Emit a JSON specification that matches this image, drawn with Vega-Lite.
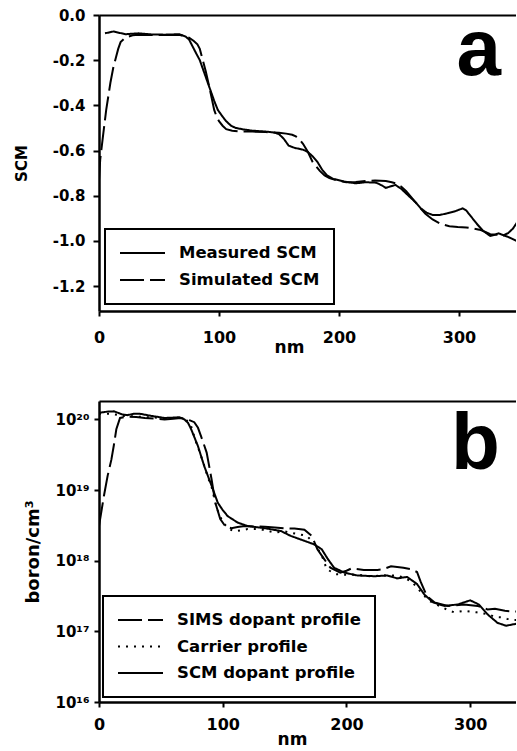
{
  "$schema": "https://vega.github.io/schema/vega-lite/v6.json",
  "background": "white",
  "padding": {"left": 14, "top": 8, "right": 0, "bottom": 0},
  "spacing": 90,
  "bounds": "flush",
  "config": {
    "font": "DejaVu Sans",
    "view": {"stroke": null},
    "axis": {
      "domainColor": "black", "domainWidth": 2.5, "tickColor": "black", "tickWidth": 2,
      "grid": false, "labelColor": "black", "titleColor": "black",
      "labelFont": "DejaVu Sans", "titleFont": "DejaVu Sans",
      "labelFontWeight": "bold", "titleFontWeight": "bold",
      "labelFlush": false, "labelOverlap": false
    },
    "legend": {
      "labelFont": "DejaVu Sans", "labelFontWeight": "bold", "labelFontSize": 16.5, "labelColor": "black", "labelLimit": 400,
      "symbolType": "stroke", "symbolStrokeColor": "black", "symbolStrokeWidth": 2, "symbolSize": 2025,
      "labelOffset": 13, "padding": 14, "clipHeight": 20,
      "strokeColor": "black", "strokeWidth": 2, "fillColor": "white", "direction": "vertical"
    }
  },
  "resolve": {"scale": {"x": "independent", "y": "independent", "strokeDash": "independent"}, "legend": {"strokeDash": "independent"}},
  "datasets": {
    "a": [
      {"nm": 5, "v": -0.081, "series": "Measured SCM"},
      {"nm": 12, "v": -0.073, "series": "Measured SCM"},
      {"nm": 22, "v": -0.085, "series": "Measured SCM"},
      {"nm": 33, "v": -0.081, "series": "Measured SCM"},
      {"nm": 44, "v": -0.086, "series": "Measured SCM"},
      {"nm": 55, "v": -0.087, "series": "Measured SCM"},
      {"nm": 67, "v": -0.085, "series": "Measured SCM"},
      {"nm": 72, "v": -0.095, "series": "Measured SCM"},
      {"nm": 75, "v": -0.108, "series": "Measured SCM"},
      {"nm": 80, "v": -0.16, "series": "Measured SCM"},
      {"nm": 84, "v": -0.2, "series": "Measured SCM"},
      {"nm": 88, "v": -0.26, "series": "Measured SCM"},
      {"nm": 92, "v": -0.32, "series": "Measured SCM"},
      {"nm": 96, "v": -0.38, "series": "Measured SCM"},
      {"nm": 99, "v": -0.42, "series": "Measured SCM"},
      {"nm": 103, "v": -0.45, "series": "Measured SCM"},
      {"nm": 106, "v": -0.47, "series": "Measured SCM"},
      {"nm": 110, "v": -0.49, "series": "Measured SCM"},
      {"nm": 114, "v": -0.5, "series": "Measured SCM"},
      {"nm": 121, "v": -0.507, "series": "Measured SCM"},
      {"nm": 128, "v": -0.512, "series": "Measured SCM"},
      {"nm": 139, "v": -0.516, "series": "Measured SCM"},
      {"nm": 146, "v": -0.52, "series": "Measured SCM"},
      {"nm": 150, "v": -0.527, "series": "Measured SCM"},
      {"nm": 154, "v": -0.548, "series": "Measured SCM"},
      {"nm": 158, "v": -0.578, "series": "Measured SCM"},
      {"nm": 163, "v": -0.588, "series": "Measured SCM"},
      {"nm": 170, "v": -0.596, "series": "Measured SCM"},
      {"nm": 174, "v": -0.606, "series": "Measured SCM"},
      {"nm": 178, "v": -0.625, "series": "Measured SCM"},
      {"nm": 182, "v": -0.65, "series": "Measured SCM"},
      {"nm": 186, "v": -0.685, "series": "Measured SCM"},
      {"nm": 190, "v": -0.71, "series": "Measured SCM"},
      {"nm": 195, "v": -0.725, "series": "Measured SCM"},
      {"nm": 204, "v": -0.737, "series": "Measured SCM"},
      {"nm": 214, "v": -0.745, "series": "Measured SCM"},
      {"nm": 222, "v": -0.74, "series": "Measured SCM"},
      {"nm": 231, "v": -0.742, "series": "Measured SCM"},
      {"nm": 236, "v": -0.755, "series": "Measured SCM"},
      {"nm": 239, "v": -0.765, "series": "Measured SCM"},
      {"nm": 244, "v": -0.757, "series": "Measured SCM"},
      {"nm": 247, "v": -0.752, "series": "Measured SCM"},
      {"nm": 252, "v": -0.77, "series": "Measured SCM"},
      {"nm": 256, "v": -0.79, "series": "Measured SCM"},
      {"nm": 260, "v": -0.81, "series": "Measured SCM"},
      {"nm": 264, "v": -0.83, "series": "Measured SCM"},
      {"nm": 268, "v": -0.855, "series": "Measured SCM"},
      {"nm": 273, "v": -0.875, "series": "Measured SCM"},
      {"nm": 278, "v": -0.885, "series": "Measured SCM"},
      {"nm": 284, "v": -0.885, "series": "Measured SCM"},
      {"nm": 290, "v": -0.878, "series": "Measured SCM"},
      {"nm": 297, "v": -0.868, "series": "Measured SCM"},
      {"nm": 303, "v": -0.856, "series": "Measured SCM"},
      {"nm": 306, "v": -0.865, "series": "Measured SCM"},
      {"nm": 309, "v": -0.885, "series": "Measured SCM"},
      {"nm": 315, "v": -0.925, "series": "Measured SCM"},
      {"nm": 320, "v": -0.955, "series": "Measured SCM"},
      {"nm": 326, "v": -0.978, "series": "Measured SCM"},
      {"nm": 330, "v": -0.972, "series": "Measured SCM"},
      {"nm": 333, "v": -0.966, "series": "Measured SCM"},
      {"nm": 337, "v": -0.975, "series": "Measured SCM"},
      {"nm": 341, "v": -0.965, "series": "Measured SCM"},
      {"nm": 345, "v": -0.945, "series": "Measured SCM"},
      {"nm": 350, "v": -0.905, "series": "Measured SCM"},
      {"nm": 0, "v": -0.73, "series": "Simulated SCM"},
      {"nm": 1, "v": -0.64, "series": "Simulated SCM"},
      {"nm": 3, "v": -0.55, "series": "Simulated SCM"},
      {"nm": 6, "v": -0.42, "series": "Simulated SCM"},
      {"nm": 9.5, "v": -0.3, "series": "Simulated SCM"},
      {"nm": 12, "v": -0.23, "series": "Simulated SCM"},
      {"nm": 14, "v": -0.19, "series": "Simulated SCM"},
      {"nm": 16, "v": -0.15, "series": "Simulated SCM"},
      {"nm": 18, "v": -0.12, "series": "Simulated SCM"},
      {"nm": 21, "v": -0.105, "series": "Simulated SCM"},
      {"nm": 24, "v": -0.097, "series": "Simulated SCM"},
      {"nm": 28, "v": -0.09, "series": "Simulated SCM"},
      {"nm": 33, "v": -0.087, "series": "Simulated SCM"},
      {"nm": 45, "v": -0.088, "series": "Simulated SCM"},
      {"nm": 55, "v": -0.088, "series": "Simulated SCM"},
      {"nm": 67, "v": -0.088, "series": "Simulated SCM"},
      {"nm": 72, "v": -0.095, "series": "Simulated SCM"},
      {"nm": 75, "v": -0.1, "series": "Simulated SCM"},
      {"nm": 79, "v": -0.115, "series": "Simulated SCM"},
      {"nm": 82, "v": -0.13, "series": "Simulated SCM"},
      {"nm": 84, "v": -0.15, "series": "Simulated SCM"},
      {"nm": 86, "v": -0.19, "series": "Simulated SCM"},
      {"nm": 89, "v": -0.25, "series": "Simulated SCM"},
      {"nm": 92, "v": -0.32, "series": "Simulated SCM"},
      {"nm": 94, "v": -0.37, "series": "Simulated SCM"},
      {"nm": 96, "v": -0.42, "series": "Simulated SCM"},
      {"nm": 98, "v": -0.45, "series": "Simulated SCM"},
      {"nm": 100, "v": -0.47, "series": "Simulated SCM"},
      {"nm": 103, "v": -0.49, "series": "Simulated SCM"},
      {"nm": 106, "v": -0.505, "series": "Simulated SCM"},
      {"nm": 111, "v": -0.512, "series": "Simulated SCM"},
      {"nm": 117, "v": -0.515, "series": "Simulated SCM"},
      {"nm": 128, "v": -0.516, "series": "Simulated SCM"},
      {"nm": 139, "v": -0.518, "series": "Simulated SCM"},
      {"nm": 150, "v": -0.521, "series": "Simulated SCM"},
      {"nm": 156, "v": -0.525, "series": "Simulated SCM"},
      {"nm": 161, "v": -0.53, "series": "Simulated SCM"},
      {"nm": 164, "v": -0.537, "series": "Simulated SCM"},
      {"nm": 167, "v": -0.55, "series": "Simulated SCM"},
      {"nm": 170, "v": -0.57, "series": "Simulated SCM"},
      {"nm": 174, "v": -0.605, "series": "Simulated SCM"},
      {"nm": 178, "v": -0.65, "series": "Simulated SCM"},
      {"nm": 181, "v": -0.67, "series": "Simulated SCM"},
      {"nm": 184, "v": -0.69, "series": "Simulated SCM"},
      {"nm": 188, "v": -0.71, "series": "Simulated SCM"},
      {"nm": 192, "v": -0.722, "series": "Simulated SCM"},
      {"nm": 199, "v": -0.733, "series": "Simulated SCM"},
      {"nm": 206, "v": -0.74, "series": "Simulated SCM"},
      {"nm": 214, "v": -0.739, "series": "Simulated SCM"},
      {"nm": 222, "v": -0.735, "series": "Simulated SCM"},
      {"nm": 230, "v": -0.733, "series": "Simulated SCM"},
      {"nm": 239, "v": -0.735, "series": "Simulated SCM"},
      {"nm": 244, "v": -0.74, "series": "Simulated SCM"},
      {"nm": 247, "v": -0.745, "series": "Simulated SCM"},
      {"nm": 252, "v": -0.76, "series": "Simulated SCM"},
      {"nm": 256, "v": -0.78, "series": "Simulated SCM"},
      {"nm": 260, "v": -0.805, "series": "Simulated SCM"},
      {"nm": 264, "v": -0.83, "series": "Simulated SCM"},
      {"nm": 267, "v": -0.85, "series": "Simulated SCM"},
      {"nm": 272, "v": -0.88, "series": "Simulated SCM"},
      {"nm": 278, "v": -0.905, "series": "Simulated SCM"},
      {"nm": 285, "v": -0.925, "series": "Simulated SCM"},
      {"nm": 292, "v": -0.935, "series": "Simulated SCM"},
      {"nm": 299, "v": -0.938, "series": "Simulated SCM"},
      {"nm": 306, "v": -0.94, "series": "Simulated SCM"},
      {"nm": 312, "v": -0.945, "series": "Simulated SCM"},
      {"nm": 317, "v": -0.95, "series": "Simulated SCM"},
      {"nm": 322, "v": -0.96, "series": "Simulated SCM"},
      {"nm": 326, "v": -0.97, "series": "Simulated SCM"},
      {"nm": 331, "v": -0.972, "series": "Simulated SCM"},
      {"nm": 334, "v": -0.97, "series": "Simulated SCM"},
      {"nm": 340, "v": -0.98, "series": "Simulated SCM"},
      {"nm": 344, "v": -0.99, "series": "Simulated SCM"},
      {"nm": 350, "v": -1.005, "series": "Simulated SCM"}
    ],
    "b": [
      {"nm": 0, "v": 3.09e18, "series": "SIMS dopant profile"},
      {"nm": 4, "v": 8.3e18, "series": "SIMS dopant profile"},
      {"nm": 7, "v": 1.6e19, "series": "SIMS dopant profile"},
      {"nm": 10, "v": 2.69e19, "series": "SIMS dopant profile"},
      {"nm": 12, "v": 4.3e19, "series": "SIMS dopant profile"},
      {"nm": 14, "v": 7.24e19, "series": "SIMS dopant profile"},
      {"nm": 17, "v": 1.047e20, "series": "SIMS dopant profile"},
      {"nm": 23, "v": 1.096e20, "series": "SIMS dopant profile"},
      {"nm": 30, "v": 1.08e20, "series": "SIMS dopant profile"},
      {"nm": 37, "v": 1.047e20, "series": "SIMS dopant profile"},
      {"nm": 45, "v": 1.03e20, "series": "SIMS dopant profile"},
      {"nm": 53, "v": 1.0e20, "series": "SIMS dopant profile"},
      {"nm": 60, "v": 1.02e20, "series": "SIMS dopant profile"},
      {"nm": 66, "v": 1.047e20, "series": "SIMS dopant profile"},
      {"nm": 70, "v": 1.02e20, "series": "SIMS dopant profile"},
      {"nm": 73, "v": 9.77e19, "series": "SIMS dopant profile"},
      {"nm": 77, "v": 9.12e19, "series": "SIMS dopant profile"},
      {"nm": 80, "v": 7.6e19, "series": "SIMS dopant profile"},
      {"nm": 82.5, "v": 5.75e19, "series": "SIMS dopant profile"},
      {"nm": 85, "v": 4.3e19, "series": "SIMS dopant profile"},
      {"nm": 87, "v": 3.39e19, "series": "SIMS dopant profile"},
      {"nm": 89, "v": 2.2e19, "series": "SIMS dopant profile"},
      {"nm": 91, "v": 1.41e19, "series": "SIMS dopant profile"},
      {"nm": 94, "v": 6.61e18, "series": "SIMS dopant profile"},
      {"nm": 98, "v": 3.89e18, "series": "SIMS dopant profile"},
      {"nm": 102, "v": 3.09e18, "series": "SIMS dopant profile"},
      {"nm": 107, "v": 2.88e18, "series": "SIMS dopant profile"},
      {"nm": 112, "v": 3.0e18, "series": "SIMS dopant profile"},
      {"nm": 118, "v": 3.09e18, "series": "SIMS dopant profile"},
      {"nm": 126, "v": 3.05e18, "series": "SIMS dopant profile"},
      {"nm": 134, "v": 3.02e18, "series": "SIMS dopant profile"},
      {"nm": 142, "v": 2.95e18, "series": "SIMS dopant profile"},
      {"nm": 150, "v": 2.88e18, "series": "SIMS dopant profile"},
      {"nm": 158, "v": 2.85e18, "series": "SIMS dopant profile"},
      {"nm": 166, "v": 2.75e18, "series": "SIMS dopant profile"},
      {"nm": 172, "v": 2.24e18, "series": "SIMS dopant profile"},
      {"nm": 176.5, "v": 1.45e18, "series": "SIMS dopant profile"},
      {"nm": 182, "v": 1.05e18, "series": "SIMS dopant profile"},
      {"nm": 187, "v": 7.94e17, "series": "SIMS dopant profile"},
      {"nm": 195, "v": 6.76e17, "series": "SIMS dopant profile"},
      {"nm": 200, "v": 7.2e17, "series": "SIMS dopant profile"},
      {"nm": 204, "v": 7.76e17, "series": "SIMS dopant profile"},
      {"nm": 214, "v": 7.41e17, "series": "SIMS dopant profile"},
      {"nm": 225, "v": 7.41e17, "series": "SIMS dopant profile"},
      {"nm": 230, "v": 7.6e17, "series": "SIMS dopant profile"},
      {"nm": 236, "v": 8.32e17, "series": "SIMS dopant profile"},
      {"nm": 246, "v": 7.94e17, "series": "SIMS dopant profile"},
      {"nm": 252, "v": 7.6e17, "series": "SIMS dopant profile"},
      {"nm": 257, "v": 6.92e17, "series": "SIMS dopant profile"},
      {"nm": 260, "v": 5.01e17, "series": "SIMS dopant profile"},
      {"nm": 265, "v": 3.16e17, "series": "SIMS dopant profile"},
      {"nm": 271, "v": 2.57e17, "series": "SIMS dopant profile"},
      {"nm": 282, "v": 2.29e17, "series": "SIMS dopant profile"},
      {"nm": 295, "v": 2.4e17, "series": "SIMS dopant profile"},
      {"nm": 306, "v": 2.29e17, "series": "SIMS dopant profile"},
      {"nm": 314, "v": 2.04e17, "series": "SIMS dopant profile"},
      {"nm": 320, "v": 2.09e17, "series": "SIMS dopant profile"},
      {"nm": 328, "v": 1.95e17, "series": "SIMS dopant profile"},
      {"nm": 335, "v": 1.91e17, "series": "SIMS dopant profile"},
      {"nm": 340, "v": 1.9e17, "series": "SIMS dopant profile"},
      {"nm": 0, "v": 1.2e20, "series": "Carrier profile"},
      {"nm": 10, "v": 1.2e20, "series": "Carrier profile"},
      {"nm": 20, "v": 1.12e20, "series": "Carrier profile"},
      {"nm": 30, "v": 1.1e20, "series": "Carrier profile"},
      {"nm": 40, "v": 1.07e20, "series": "Carrier profile"},
      {"nm": 50, "v": 1.05e20, "series": "Carrier profile"},
      {"nm": 60, "v": 1.05e20, "series": "Carrier profile"},
      {"nm": 66, "v": 1.047e20, "series": "Carrier profile"},
      {"nm": 70, "v": 1.0e20, "series": "Carrier profile"},
      {"nm": 74, "v": 8.5e19, "series": "Carrier profile"},
      {"nm": 78, "v": 5.0e19, "series": "Carrier profile"},
      {"nm": 82, "v": 3.2e19, "series": "Carrier profile"},
      {"nm": 85, "v": 2.24e19, "series": "Carrier profile"},
      {"nm": 88, "v": 1.5e19, "series": "Carrier profile"},
      {"nm": 91, "v": 1.1e19, "series": "Carrier profile"},
      {"nm": 95, "v": 5.6e18, "series": "Carrier profile"},
      {"nm": 100, "v": 3.5e18, "series": "Carrier profile"},
      {"nm": 105, "v": 2.8e18, "series": "Carrier profile"},
      {"nm": 110, "v": 2.6e18, "series": "Carrier profile"},
      {"nm": 120, "v": 2.8e18, "series": "Carrier profile"},
      {"nm": 130, "v": 2.8e18, "series": "Carrier profile"},
      {"nm": 142, "v": 2.5e18, "series": "Carrier profile"},
      {"nm": 150, "v": 2.6e18, "series": "Carrier profile"},
      {"nm": 157, "v": 2.45e18, "series": "Carrier profile"},
      {"nm": 163, "v": 2.34e18, "series": "Carrier profile"},
      {"nm": 168, "v": 2.24e18, "series": "Carrier profile"},
      {"nm": 172, "v": 1.9e18, "series": "Carrier profile"},
      {"nm": 176, "v": 1.55e18, "series": "Carrier profile"},
      {"nm": 180, "v": 1.2e18, "series": "Carrier profile"},
      {"nm": 184, "v": 7.6e17, "series": "Carrier profile"},
      {"nm": 191, "v": 6.46e17, "series": "Carrier profile"},
      {"nm": 200, "v": 6.3e17, "series": "Carrier profile"},
      {"nm": 210, "v": 6.3e17, "series": "Carrier profile"},
      {"nm": 220, "v": 6.0e17, "series": "Carrier profile"},
      {"nm": 230, "v": 6.2e17, "series": "Carrier profile"},
      {"nm": 241, "v": 6.17e17, "series": "Carrier profile"},
      {"nm": 248, "v": 5.6e17, "series": "Carrier profile"},
      {"nm": 253, "v": 5.0e17, "series": "Carrier profile"},
      {"nm": 257, "v": 4.17e17, "series": "Carrier profile"},
      {"nm": 262, "v": 3.3e17, "series": "Carrier profile"},
      {"nm": 267, "v": 2.7e17, "series": "Carrier profile"},
      {"nm": 275, "v": 2.29e17, "series": "Carrier profile"},
      {"nm": 282, "v": 2.0e17, "series": "Carrier profile"},
      {"nm": 287, "v": 1.86e17, "series": "Carrier profile"},
      {"nm": 295, "v": 1.95e17, "series": "Carrier profile"},
      {"nm": 300, "v": 1.9e17, "series": "Carrier profile"},
      {"nm": 305, "v": 1.86e17, "series": "Carrier profile"},
      {"nm": 310, "v": 1.8e17, "series": "Carrier profile"},
      {"nm": 315, "v": 1.74e17, "series": "Carrier profile"},
      {"nm": 320, "v": 1.6e17, "series": "Carrier profile"},
      {"nm": 325, "v": 1.58e17, "series": "Carrier profile"},
      {"nm": 330, "v": 1.5e17, "series": "Carrier profile"},
      {"nm": 335, "v": 1.45e17, "series": "Carrier profile"},
      {"nm": 340, "v": 1.45e17, "series": "Carrier profile"},
      {"nm": 0.5, "v": 1.245e20, "series": "SCM dopant profile"},
      {"nm": 7, "v": 1.288e20, "series": "SCM dopant profile"},
      {"nm": 12, "v": 1.3e20, "series": "SCM dopant profile"},
      {"nm": 15, "v": 1.245e20, "series": "SCM dopant profile"},
      {"nm": 19, "v": 1.17e20, "series": "SCM dopant profile"},
      {"nm": 23, "v": 1.148e20, "series": "SCM dopant profile"},
      {"nm": 28, "v": 1.2e20, "series": "SCM dopant profile"},
      {"nm": 33, "v": 1.202e20, "series": "SCM dopant profile"},
      {"nm": 42, "v": 1.122e20, "series": "SCM dopant profile"},
      {"nm": 53, "v": 1.047e20, "series": "SCM dopant profile"},
      {"nm": 60, "v": 1.06e20, "series": "SCM dopant profile"},
      {"nm": 65, "v": 1.072e20, "series": "SCM dopant profile"},
      {"nm": 69, "v": 1.0e20, "series": "SCM dopant profile"},
      {"nm": 72, "v": 8.9e19, "series": "SCM dopant profile"},
      {"nm": 74.5, "v": 7.24e19, "series": "SCM dopant profile"},
      {"nm": 80, "v": 4.17e19, "series": "SCM dopant profile"},
      {"nm": 85, "v": 2.19e19, "series": "SCM dopant profile"},
      {"nm": 91, "v": 1.15e19, "series": "SCM dopant profile"},
      {"nm": 96, "v": 6.61e18, "series": "SCM dopant profile"},
      {"nm": 100, "v": 5.2e18, "series": "SCM dopant profile"},
      {"nm": 104, "v": 4.27e18, "series": "SCM dopant profile"},
      {"nm": 112, "v": 3.47e18, "series": "SCM dopant profile"},
      {"nm": 120, "v": 3.09e18, "series": "SCM dopant profile"},
      {"nm": 134, "v": 2.88e18, "series": "SCM dopant profile"},
      {"nm": 147, "v": 2.63e18, "series": "SCM dopant profile"},
      {"nm": 155, "v": 2.24e18, "series": "SCM dopant profile"},
      {"nm": 166, "v": 1.91e18, "series": "SCM dopant profile"},
      {"nm": 174, "v": 1.7e18, "series": "SCM dopant profile"},
      {"nm": 180, "v": 1.45e18, "series": "SCM dopant profile"},
      {"nm": 185, "v": 1.05e18, "series": "SCM dopant profile"},
      {"nm": 190, "v": 7.94e17, "series": "SCM dopant profile"},
      {"nm": 198.5, "v": 6.76e17, "series": "SCM dopant profile"},
      {"nm": 209, "v": 6.17e17, "series": "SCM dopant profile"},
      {"nm": 223, "v": 6.03e17, "series": "SCM dopant profile"},
      {"nm": 233, "v": 6.17e17, "series": "SCM dopant profile"},
      {"nm": 241, "v": 5.62e17, "series": "SCM dopant profile"},
      {"nm": 249, "v": 5.89e17, "series": "SCM dopant profile"},
      {"nm": 257, "v": 4.68e17, "series": "SCM dopant profile"},
      {"nm": 263, "v": 3.31e17, "series": "SCM dopant profile"},
      {"nm": 270, "v": 2.57e17, "series": "SCM dopant profile"},
      {"nm": 279, "v": 2.29e17, "series": "SCM dopant profile"},
      {"nm": 290, "v": 2.4e17, "series": "SCM dopant profile"},
      {"nm": 300, "v": 2.75e17, "series": "SCM dopant profile"},
      {"nm": 307, "v": 2.4e17, "series": "SCM dopant profile"},
      {"nm": 314, "v": 1.74e17, "series": "SCM dopant profile"},
      {"nm": 322, "v": 1.32e17, "series": "SCM dopant profile"},
      {"nm": 329, "v": 1.2e17, "series": "SCM dopant profile"},
      {"nm": 335, "v": 1.26e17, "series": "SCM dopant profile"},
      {"nm": 340, "v": 1.3e17, "series": "SCM dopant profile"}
    ],
    "la": [{"nm": 335, "v": -0.265, "t": "a"}],
    "lb": [{"nm": 324, "v": 2.0e19, "t": "b"}]
  },
  "vconcat": [
    {
      "width": 417,
      "height": 296,
      "resolve": {"axis": {"x": "independent"}},
      "layer": [
        {
          "data": {"name": "a"},
          "mark": {"type": "line", "color": "black", "strokeWidth": 2, "clip": true},
          "encoding": {
            "x": {"field": "nm", "type": "quantitative", "scale": {"domain": [0, 347.5], "nice": false, "zero": false},
              "axis": {"values": [0, 100, 200, 300], "title": "nm", "titleX": 190, "titleY": 41, "titleBaseline": "alphabetic", "titleFontSize": 17, "labelFontSize": 16, "labelPadding": 13, "tickSize": 5}},
            "y": {"field": "v", "type": "quantitative", "scale": {"domain": [-1.31, 0], "nice": false, "zero": false},
              "axis": {"values": [-1.2, -1, -0.8, -0.6, -0.4, -0.2, 0], "labelExpr": "replace(format(datum.value, '.1f'), '\u2212', '-')", "title": "SCM", "titleX": -78, "titleBaseline": "middle", "titleFontSize": 15, "labelFontSize": 15, "tickSize": 6, "labelPadding": 8}},
            "strokeDash": {"field": "series", "type": "nominal",
              "scale": {"domain": ["Measured SCM", "Simulated SCM"], "range": [[1, 0], [24, 6]]},
              "legend": {"orient": "none", "legendX": 6, "legendY": 214, "title": null, "rowPadding": 7}}
          }
        },
        {
          "data": {"name": "la"},
          "mark": {"type": "text", "font": "Liberation Sans", "fontWeight": "bold", "fontSize": 80, "align": "right", "baseline": "alphabetic", "color": "black"},
          "encoding": {
            "x": {"field": "nm", "type": "quantitative", "axis": {"orient": "top", "labels": false, "ticks": false, "title": null, "domainWidth": 2}},
            "y": {"field": "v", "type": "quantitative"},
            "text": {"field": "t"}
          }
        }
      ]
    },
    {
      "width": 417,
      "height": 301,
      "resolve": {"axis": {"x": "independent"}},
      "layer": [
        {
          "data": {"name": "b"},
          "mark": {"type": "line", "color": "black", "strokeWidth": 2, "clip": true},
          "encoding": {
            "x": {"field": "nm", "type": "quantitative", "scale": {"domain": [0, 337], "nice": false, "zero": false},
              "axis": {"values": [0, 100, 200, 300], "title": "nm", "titleX": 193, "titleY": 42, "titleBaseline": "alphabetic", "titleFontSize": 17, "labelFontSize": 16, "labelPadding": 9, "tickSize": 5}},
            "y": {"field": "v", "type": "quantitative", "scale": {"type": "log", "domain": [1e16, 1.82e20], "nice": false},
              "axis": {"values": [1e16, 1e17, 1e18, 1e19, 1e20], "labelExpr": "datum.value > 5e19 ? '10²⁰' : datum.value > 5e18 ? '10¹⁹' : datum.value > 5e17 ? '10¹⁸' : datum.value > 5e16 ? '10¹⁷' : '10¹⁶'", "title": "boron/cm³", "titleX": -66, "titleBaseline": "middle", "titleFontSize": 18, "labelFontSize": 15, "tickSize": 5, "labelPadding": 5}},
            "strokeDash": {"field": "series", "type": "nominal",
              "scale": {"domain": ["SIMS dopant profile", "Carrier profile", "SCM dopant profile"], "range": [[24, 6], [2, 6], [1, 0]]},
              "legend": {"orient": "none", "legendX": 4, "legendY": 195, "title": null, "rowPadding": 6.5}}
          }
        },
        {
          "data": {"name": "lb"},
          "mark": {"type": "text", "font": "Liberation Sans", "fontWeight": "bold", "fontSize": 80, "align": "right", "baseline": "alphabetic", "color": "black"},
          "encoding": {
            "x": {"field": "nm", "type": "quantitative", "axis": {"orient": "top", "labels": false, "ticks": false, "title": null, "domainWidth": 2}},
            "y": {"field": "v", "type": "quantitative"},
            "text": {"field": "t"}
          }
        }
      ]
    }
  ]
}
